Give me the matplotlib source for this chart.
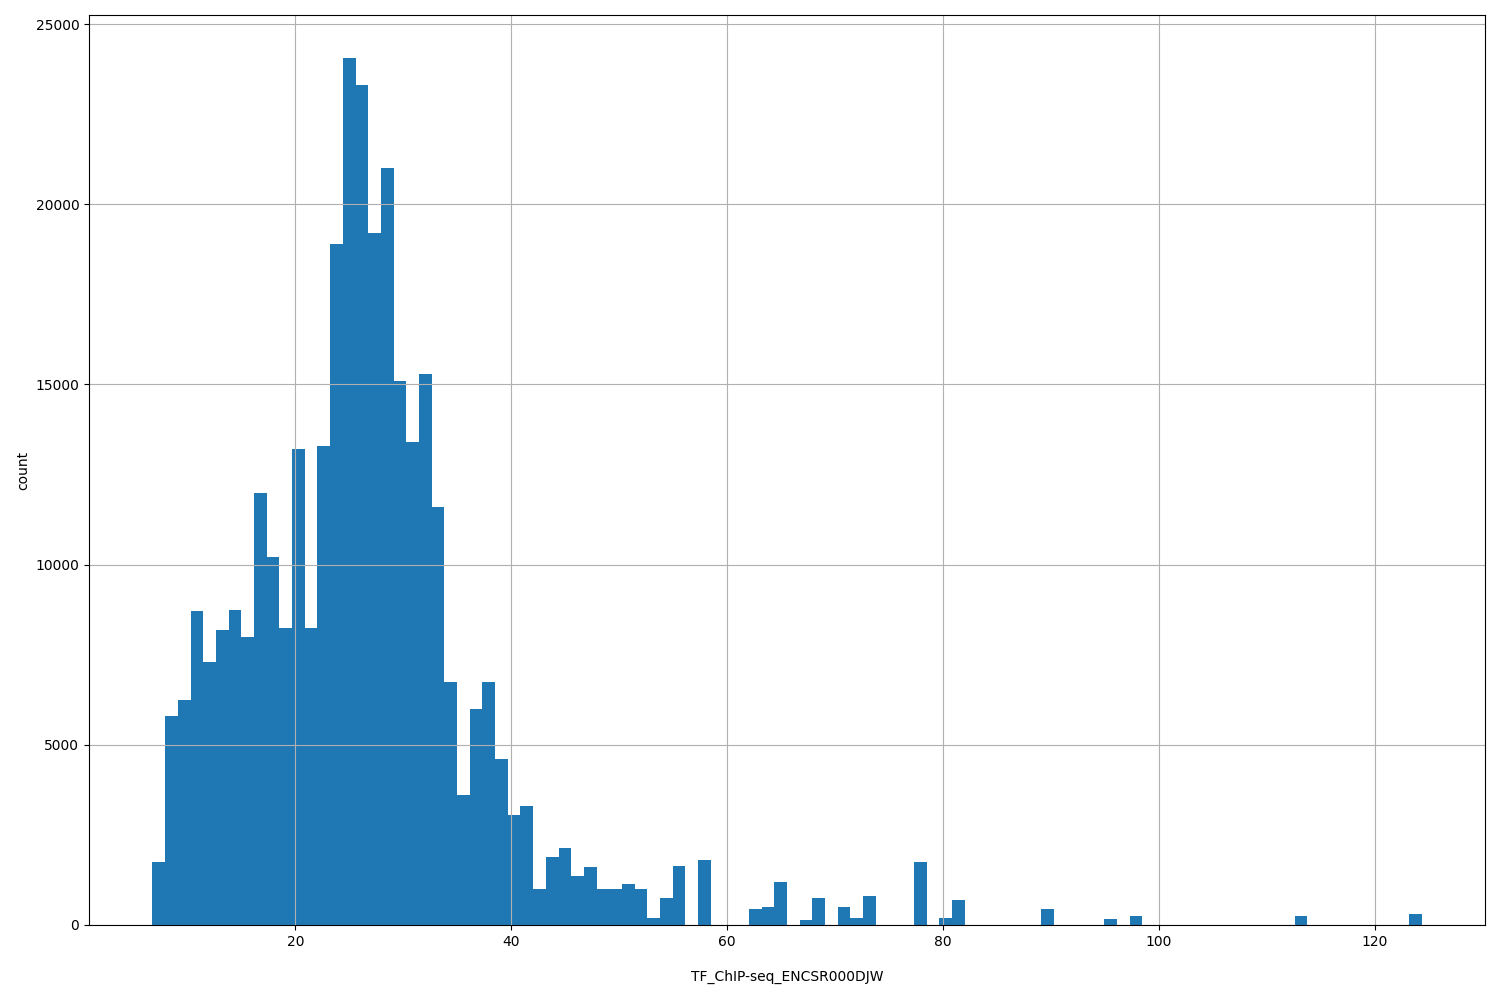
import numpy as np
import matplotlib
matplotlib.use("Agg")
import matplotlib.pyplot as plt

x_min, x_max = 6.76, 124.35
counts = [1750, 5800, 6250, 8700, 7300, 8200, 8750, 8000, 12000, 10200,
          8250, 13200, 8250, 13300, 18900, 24050, 23300, 19200, 21000, 15100,
          13400, 15300, 11600, 6750, 3600, 6000, 6750, 4600, 3050, 3300,
          1000, 1900, 2150, 1350, 1600, 1000, 1000, 1150, 1000, 200,
          750, 1650, 0, 1800, 0, 0, 0, 450, 500, 1200,
          0, 150, 750, 0, 500, 200, 800, 0, 0, 0,
          1750, 0, 200, 700, 0, 0, 0, 0, 0, 0,
          450, 0, 0, 0, 0, 170, 0, 250, 0, 0,
          0, 0, 0, 0, 0, 0, 0, 0, 0, 0,
          250, 0, 0, 0, 0, 0, 0, 0, 0, 300]

edges = np.linspace(x_min, x_max, len(counts) + 1)
centers = (edges[:-1] + edges[1:]) / 2

fig = plt.figure(figsize=(15, 10), dpi=100)
ax = fig.add_axes([89/1500, 75/1000, (1485-89)/1500, (925-15)/1000])
ax.hist(centers, bins=edges, weights=counts, color="#1f77b4")
ax.grid(True)
ax.set_xlabel("TF_ChIP-seq_ENCSR000DJW", labelpad=15)
ax.set_ylabel("count", labelpad=4)
fig.savefig("out.png")
